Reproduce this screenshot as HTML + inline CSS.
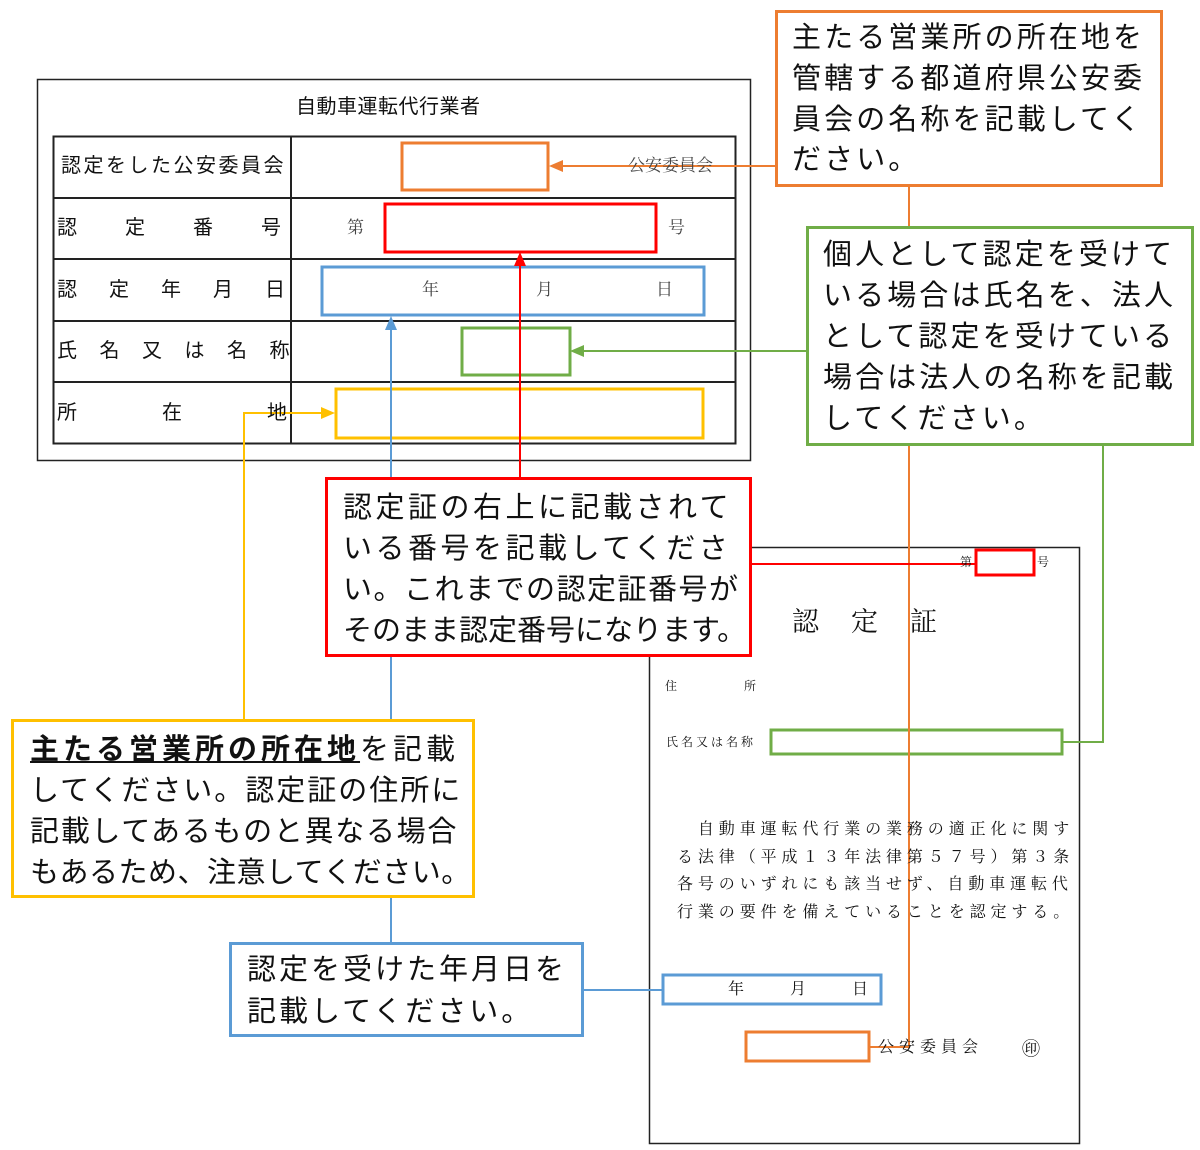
<!DOCTYPE html>
<html><head><meta charset="utf-8">
<style>
body{margin:0;width:1200px;height:1150px;background:#fff;position:relative;overflow:hidden;font-family:"Liberation Sans","Noto Sans CJK JP",sans-serif;color:#111}
.a{position:absolute;white-space:nowrap;line-height:1}
.s{font-family:"Liberation Serif","Noto Serif CJK SC",serif}
.c{position:absolute;background:#fff;box-sizing:border-box;border:3px solid}
.c div{position:absolute;white-space:nowrap;font-size:29px;line-height:1}
</style></head><body>
<svg width="1200" height="1150" style="position:absolute;left:0;top:0">
<g fill="none" stroke="#222">
<rect x="37.5" y="79.5" width="713" height="381" stroke-width="1.5"/>
<rect x="53.5" y="136.5" width="682" height="307" stroke-width="2"/>
<line x1="53" y1="198" x2="735" y2="198" stroke-width="2"/>
<line x1="53" y1="259" x2="735" y2="259" stroke-width="2"/>
<line x1="53" y1="321" x2="735" y2="321" stroke-width="2"/>
<line x1="53" y1="382" x2="735" y2="382" stroke-width="2"/>
<line x1="291" y1="136" x2="291" y2="443" stroke-width="2"/>
<rect x="649.5" y="547.5" width="430" height="596" stroke-width="1.5"/>
</g>
<g fill="none" stroke-width="3">
<rect x="402" y="143" width="146" height="47" stroke="#ED7D31"/>
<rect x="385" y="204" width="271" height="48" stroke="#FF0000"/>
<rect x="322" y="267" width="382" height="48" stroke="#5B9BD5"/>
<rect x="462" y="328" width="108" height="47" stroke="#70AD47"/>
<rect x="336" y="389" width="367" height="49" stroke="#FFC000"/>
<rect x="976" y="550" width="58" height="25" stroke="#FF0000"/>
<rect x="771" y="730" width="291" height="24" stroke="#70AD47"/>
<rect x="663" y="975" width="218" height="29" stroke="#5B9BD5"/>
<rect x="746" y="1032" width="123" height="29" stroke="#ED7D31"/>
</g>
<g fill="none" stroke-width="2">
<polyline points="775,166 560,166" stroke="#ED7D31"/>
<polyline points="909,186 909,1047 869,1047" stroke="#ED7D31"/>
<polyline points="806,351 582,351" stroke="#70AD47"/>
<polyline points="1103,445 1103,742 1062,742" stroke="#70AD47"/>
<polyline points="520,477 520,262" stroke="#FF0000"/>
<polyline points="751,564 975,564" stroke="#FF0000"/>
<polyline points="391,943 391,328" stroke="#5B9BD5"/>
<polyline points="583,990 662,990" stroke="#5B9BD5"/>
<polyline points="244,720 244,413 324,413" stroke="#FFC000"/>
</g>
<polygon points="549,166 563,160 563,172" fill="#ED7D31"/>
<polygon points="570,351 584,345 584,357" fill="#70AD47"/>
<polygon points="520,252 514,266 526,266" fill="#FF0000"/>
<polygon points="391,316 385,330 397,330" fill="#5B9BD5"/>
<polygon points="335,413 321,407 321,419" fill="#FFC000"/>
</svg>

<div class="a" style="left:296px;top:97px;font-size:20px;letter-spacing:0.5px">自動車運転代行業者</div>
<div class="a" style="left:61px;top:156px;font-size:20px;letter-spacing:2.5px">認定をした公安委員会</div>
<div class="a" style="left:57px;top:218px;font-size:20px;word-spacing:0">認<span style="margin-left:48px">定</span><span style="margin-left:48px">番</span><span style="margin-left:48px">号</span></div>
<div class="a" style="left:57px;top:280px;font-size:20px">認<span style="margin-left:32px">定</span><span style="margin-left:32px">年</span><span style="margin-left:32px">月</span><span style="margin-left:32px">日</span></div>
<div class="a" style="left:57px;top:341px;font-size:20px;letter-spacing:22.5px">氏名又は名称</div>
<div class="a" style="left:57px;top:403px;font-size:20px">所<span style="margin-left:85px">在</span><span style="margin-left:85px">地</span></div>
<div class="a s" style="left:628px;top:157px;font-size:17px;color:#444">公安委員会</div>
<div class="a s" style="left:347px;top:219px;font-size:17px;color:#444">第</div>
<div class="a s" style="left:668px;top:219px;font-size:17px;color:#444">号</div>
<div class="a s" style="left:422px;top:281px;font-size:17px;color:#444">年</div>
<div class="a s" style="left:536px;top:281px;font-size:17px;color:#444">月</div>
<div class="a s" style="left:656px;top:281px;font-size:17px;color:#444">日</div>

<div class="a s" style="left:960px;top:556px;font-size:12px">第</div>
<div class="a s" style="left:1037px;top:556px;font-size:12px">号</div>
<div class="a s" style="left:792px;top:609px;font-size:27px;letter-spacing:32px">認定証</div>
<div class="a s" style="left:665px;top:680px;font-size:12px">住<span style="margin-left:67px">所</span></div>
<div class="a s" style="left:666px;top:736px;font-size:12px;letter-spacing:3px">氏名又は名称</div>
<div class="a s" style="left:677px;top:816px;font-size:16px;line-height:27.7px;letter-spacing:4.9px">
&#12288;自動車運転代行業の業務の適正化に関す<br>る法律（平成１３年法律第５７号）第３条<br>各号のいずれにも該当せず、自動車運転代<br>行業の要件を備えていることを認定する。</div>
<div class="a s" style="left:728px;top:982px;font-size:16px">年<span style="margin-left:46px">月</span><span style="margin-left:46px">日</span></div>
<div class="a s" style="left:878px;top:1040px;font-size:16px;letter-spacing:5px">公安委員会</div>
<div class="a s" style="left:1022px;top:1040px;font-size:18px">㊞</div>

<div class="c" style="left:775px;top:10px;width:388px;height:177px;border-color:#ED7D31">
<div style="left:14px;top:11px;letter-spacing:3.1px">主たる営業所の所在地を</div>
<div style="left:14px;top:52px;letter-spacing:3.1px">管轄する都道府県公安委</div>
<div style="left:14px;top:93px;letter-spacing:3.1px">員会の名称を記載してく</div>
<div style="left:14px;top:133px;letter-spacing:3.1px">ださい。</div>
</div>
<div class="c" style="left:806px;top:226px;width:388px;height:220px;border-color:#70AD47">
<div style="left:14px;top:12px;letter-spacing:3.1px">個人として認定を受けて</div>
<div style="left:14px;top:53px;letter-spacing:3.1px">いる場合は氏名を、法人</div>
<div style="left:14px;top:94px;letter-spacing:3.1px">として認定を受けている</div>
<div style="left:14px;top:135px;letter-spacing:3.1px">場合は法人の名称を記載</div>
<div style="left:14px;top:176px;letter-spacing:3.1px">してください。</div>
</div>
<div class="c" style="left:325px;top:477px;width:427px;height:180px;border-color:#FF0000">
<div style="left:15px;top:14px;letter-spacing:3.5px">認定証の右上に記載されて</div>
<div style="left:15px;top:55px;letter-spacing:3.5px">いる番号を記載してくださ</div>
<div style="left:15px;top:96px;letter-spacing:1.5px">い。これまでの認定証番号が</div>
<div style="left:15px;top:137px;letter-spacing:0px">そのまま認定番号になります。</div>
</div>
<div class="c" style="left:11px;top:719px;width:464px;height:179px;border-color:#FFC000">
<div style="left:16px;top:14px;letter-spacing:4px"><b><u>主たる営業所の所在地</u></b>を記載</div>
<div style="left:16px;top:55px;letter-spacing:2px">してください。認定証の住所に</div>
<div style="left:16px;top:96px;letter-spacing:1.7px">記載してあるものと異なる場合</div>
<div style="left:16px;top:137px;letter-spacing:0.5px">もあるため、注意してください。</div>
</div>
<div class="c" style="left:229px;top:942px;width:355px;height:95px;border-color:#5B9BD5">
<div style="left:15px;top:11px;letter-spacing:3px">認定を受けた年月日を</div>
<div style="left:15px;top:53px;letter-spacing:3px">記載してください。</div>
</div>
</body></html>
